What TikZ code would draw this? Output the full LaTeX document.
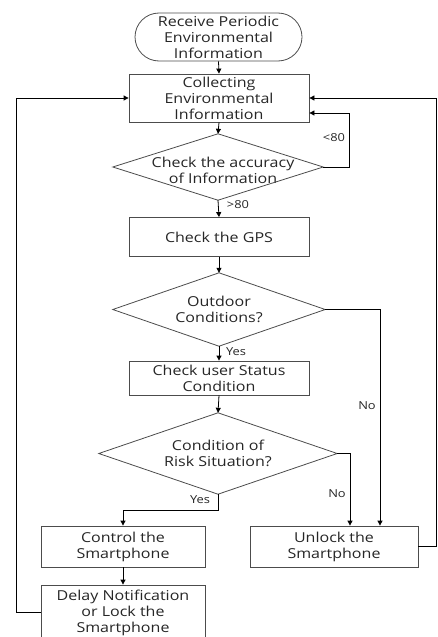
\documentclass[tikz,border=0pt]{standalone}
\usepackage{fontspec}
\setmainfont[FakeStretch=1.17]{Open Sans}
\usetikzlibrary{arrows.meta}
\begin{document}
\begin{tikzpicture}[x=1pt,y=-1pt,
  box/.style={draw=black!70,line width=0.8pt,align=center,inner sep=0pt,font=\fontsize{13.7}{16}\selectfont,text=black!85},
  dtext/.style={draw=none,align=center,inner sep=0pt,font=\fontsize{13.7}{16}\selectfont,text=black!85},
  dshape/.style={draw=black!70,line width=0.8pt},
  lbl/.style={font=\fontsize{11}{12}\selectfont,text=black!85,inner sep=0pt},
  conn/.style={draw=black,line width=0.8pt},
  arr/.style={conn,-{Triangle[length=5pt,width=5pt]}}]
\useasboundingbox (0,0) rectangle (437,637);
\clip (0,0) rectangle (437,637);
\node[box,minimum width=167,minimum height=48,rounded corners=24pt] (start) at (218.5,37) {Receive Periodic\\Environmental\\Information};
\node[box,minimum width=180,minimum height=48] (collect) at (219,98) {Collecting\\Environmental\\Information};
\node[dtext,minimum width=210,minimum height=66] (d1) at (218,167) {};
\node[dtext] (d1t) at (223,170) {Check the accuracy\\of Information};
\draw[dshape] (d1.north) -- (d1.east) -- (d1.south) -- (d1.west) -- cycle;
\node[box,minimum width=180,minimum height=39] (gps) at (219,237) {Check the GPS};
\node[dtext,minimum width=212,minimum height=73] (d2) at (219,309.5) {Outdoor\\Conditions?};
\draw[dshape] (d2.north) -- (d2.east) -- (d2.south) -- (d2.west) -- cycle;
\node[box,minimum width=180,minimum height=34] (user) at (219,378) {Check user Status\\Condition};
\node[dtext,minimum width=238,minimum height=81] (d3) at (218,453.5) {Condition of\\Risk Situation?};
\draw[dshape] (d3.north) -- (d3.east) -- (d3.south) -- (d3.west) -- cycle;
\node[box,minimum width=164,minimum height=41] (control) at (123,546.5) {Control the\\Smartphone};
\node[box,minimum width=168,minimum height=41] (unlock) at (334,546.5) {Unlock the\\Smartphone};
\node[box,minimum width=164,minimum height=56] (delay) at (123,613) {Delay Notification\\or Lock the\\Smartphone};
\coordinate (lx) at (16,0);
\coordinate (rx) at (436.5,0);
\coordinate (k1) at (349,0);
\coordinate (k2) at (380,0);
\coordinate (k3) at (350,0);
\coordinate (k4) at (123,510);
\draw[arr] (start.south) -- (collect.north);
\draw[arr] (collect.south) -- (d1.north);
\draw[arr] (d1.east) -- (k1 |- d1.east) -- (k1 |- {0,113}) -- ({collect.east} |- {0,113});
\draw[arr] (d1.south) -- (gps.north);
\draw[arr] (gps.south) -- (d2.north);
\draw[arr] (d2.south) -- (user.north);
\draw[arr] (user.south) -- (d3.north);
\draw[arr] (d2.east) -- (k2 |- d2.east) -- (k2 |- unlock.north);
\draw[arr] (d3.east) -- (k3 |- d3.east) -- (k3 |- unlock.north);
\draw[arr] (d3.south) -- (d3.south |- k4) -- (k4) -- (control.north);
\draw[arr] (control.south) -- (delay.north);
\draw[arr] (delay.west |- {0,612}) -- (lx |- {0,612}) -- (lx |- collect.west) -- (collect.west);
\draw[arr] (unlock.east) -- (rx |- unlock.east) -- (rx |- collect.east) -- (collect.east);
\node[lbl] (l80) at (334,138) {<80};
\node[lbl] (g80) at (238,205) {>80};
\node[lbl] (y1) at (236,352) {Yes};
\node[lbl] (n1) at (367,406) {No};
\node[lbl] (n2) at (337,494) {No};
\node[lbl] (y2) at (200,500) {Yes};
\end{tikzpicture}
\end{document}
